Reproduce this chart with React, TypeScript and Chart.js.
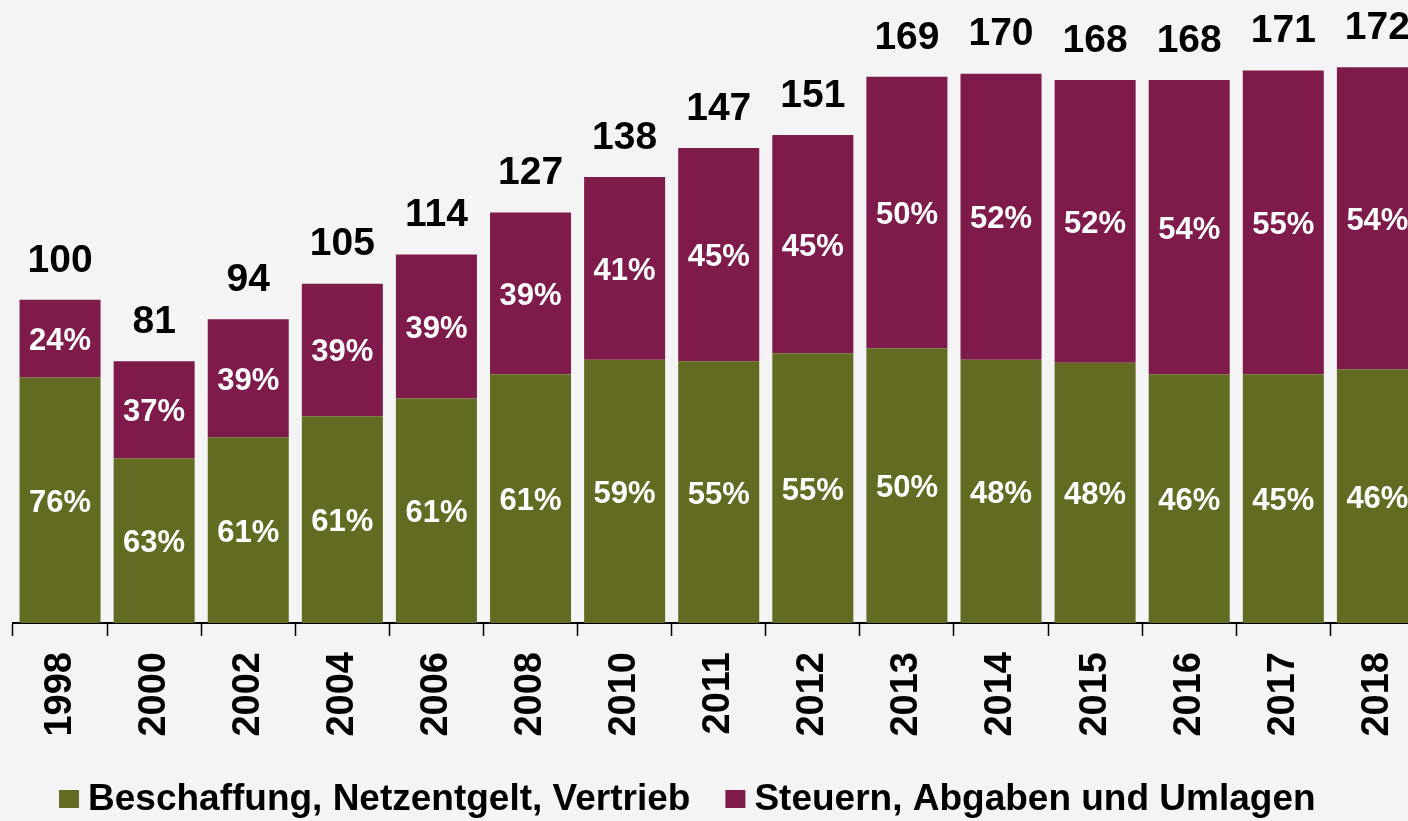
import React, { useEffect, useRef } from "react";
import { Chart, registerables } from "chart.js";

Chart.register(...registerables);

const years = ["1998", "2000", "2002", "2004", "2006", "2008", "2010", "2011", "2012", "2013", "2014", "2015", "2016", "2017", "2018"];
const supplyValues = [76, 51, 57.5, 64, 69.5, 77, 81.5, 81, 83.5, 85, 81.5, 80.5, 77, 77, 78.5];
const taxValues = [24, 30, 36.5, 41, 44.5, 50, 56.5, 66, 67.5, 84, 88.5, 87.5, 91, 94, 93.5];
const totalLabels = ["100", "81", "94", "105", "114", "127", "138", "147", "151", "169", "170", "168", "168", "171", "172"];
const supplyShareLabels = ["76%", "63%", "61%", "61%", "61%", "61%", "59%", "55%", "55%", "50%", "48%", "48%", "46%", "45%", "46%"];
const taxShareLabels = ["24%", "37%", "39%", "39%", "39%", "39%", "41%", "45%", "45%", "50%", "52%", "52%", "54%", "55%", "54%"];
const seriesNames = ["Beschaffung, Netzentgelt, Vertrieb", "Steuern, Abgaben und Umlagen"];
const seriesColors = ["#636b22", "#7e1b4a"];

const FONT = "'Liberation Sans', Arial, sans-serif";

const labelPlugin = {
  id: "labelPlugin",
  afterDatasetsDraw(chart: any) {
    const ctx = chart.ctx;
    ctx.save();
    ctx.textAlign = "center";
    ctx.textBaseline = "middle";
    const shareSets = [supplyShareLabels, taxShareLabels];
    chart.data.datasets.forEach((_ds: any, di: number) => {
      const meta = chart.getDatasetMeta(di);
      meta.data.forEach((bar: any, i: number) => {
        const cy = (bar.y + bar.base) / 2 + 3;
        ctx.fillStyle = "#ffffff";
        ctx.font = `bold 31px ${FONT}`;
        ctx.fillText(shareSets[di][i], bar.x, cy);
      });
    });
    const topMeta = chart.getDatasetMeta(chart.data.datasets.length - 1);
    topMeta.data.forEach((bar: any, i: number) => {
      ctx.fillStyle = "#000000";
      ctx.font = `bold 39px ${FONT}`;
      ctx.fillText(totalLabels[i], bar.x, bar.y - 39);
    });
    ctx.restore();
  },
};

const legendPlugin = {
  id: "customLegend",
  afterDraw(chart: any) {
    const ctx = chart.ctx;
    ctx.save();
    ctx.font = `bold 37px ${FONT}`;
    ctx.textBaseline = "middle";
    ctx.textAlign = "left";
    let x = 59;
    const yc = 799;
    chart.data.datasets.forEach((ds: any) => {
      ctx.fillStyle = ds.backgroundColor;
      ctx.fillRect(x, 790, 20, 18);
      ctx.fillStyle = "#000";
      ctx.fillText(ds.label, x + 29, yc + 1);
      const w = ctx.measureText(ds.label).width;
      x = x + 29 + w + 35;
    });
    ctx.restore();
  },
};

export default function App() {
  const ref = useRef<HTMLCanvasElement>(null);
  useEffect(() => {
    document.body.style.margin = "0";
    document.body.style.overflow = "hidden";
    const chart = new Chart(ref.current as HTMLCanvasElement, {
      type: "bar",
      data: {
        labels: years,
        datasets: [
          {
            label: seriesNames[0],
            data: supplyValues,
            backgroundColor: seriesColors[0],
            borderWidth: 0,
            categoryPercentage: 1,
            barPercentage: 0.861,
          },
          {
            label: seriesNames[1],
            data: taxValues,
            backgroundColor: seriesColors[1],
            borderWidth: 0,
            categoryPercentage: 1,
            barPercentage: 0.861,
          },
        ],
      },
      options: {
        responsive: false,
        animation: false,
        devicePixelRatio: 1,
        layout: { padding: { left: 13, top: 9, right: 0, bottom: 0 } },
        plugins: {
          legend: { display: false },
          tooltip: { enabled: false },
        },
        scales: {
          x: {
            stacked: true,
            offset: true,
            grid: {
              offset: true,
              drawOnChartArea: false,
              drawTicks: true,
              tickLength: 13,
              tickColor: "#000",
              tickWidth: 1.5,
            },
            border: { display: true, color: "#000", width: 2 },
            ticks: {
              minRotation: 90,
              maxRotation: 90,
              autoSkip: false,
              padding: 16,
              color: "#000",
              font: { family: FONT, size: 38, weight: "bold" },
            },
            afterFit: (s: any) => {
              s.height = 198;
            },
          },
          y: {
            stacked: true,
            display: false,
            min: 0,
            max: 190,
          },
        },
      },
      plugins: [labelPlugin, legendPlugin],
    } as any);
    return () => chart.destroy();
  }, []);
  return (
    <div
      style={{
        position: "fixed",
        left: 0,
        top: 0,
        width: 1408,
        height: 821,
        overflow: "hidden",
        background: "#f4f4f4",
      }}
    >
      <canvas ref={ref} width={1439} height={821} style={{ width: 1439, height: 821, display: "block" }} />
    </div>
  );
}
